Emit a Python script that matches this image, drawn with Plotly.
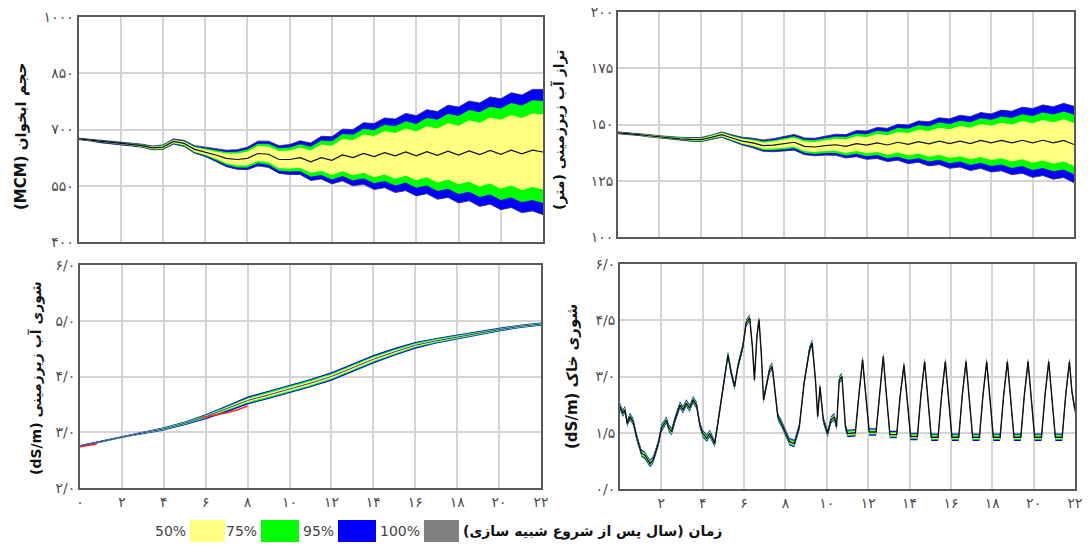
import plotly.graph_objects as go

# ---------------- data ----------------
T_HALF = [0, 0.5, 1, 1.5, 2, 2.5, 3, 3.5, 4, 4.5, 5, 5.5, 6, 6.5, 7, 7.5, 8, 8.5,
          9, 9.5, 10, 10.5, 11, 11.5, 12, 12.5, 13, 13.5, 14, 14.5, 15, 15.5, 16,
          16.5, 17, 17.5, 18, 18.5, 19, 19.5, 20, 20.5, 21, 21.5, 22]

# aquifer volume (MCM): median and band half-widths
TL_MEDIAN = [675, 672, 668, 665, 662, 660, 657, 651, 653, 668, 663, 647, 640, 632,
             623, 620, 623, 636, 634, 620, 620, 625, 614, 625, 618, 632, 625, 636,
             628, 638, 630, 640, 630, 641, 631, 642, 632, 643, 633, 644, 634, 645,
             635, 645, 640]
TL_W50 = [1, 1, 1.5, 1.5, 1.5, 2, 2, 3, 3.5, 4, 4.5, 6, 7, 10, 13, 16, 18, 20, 21,
          23, 24, 27, 30, 35, 39, 43, 47, 51, 55, 58, 61, 63, 65, 68, 72, 75, 78, 82,
          85, 88, 92, 94, 96, 98, 100]
TL_W75 = [1.5, 1.5, 2, 2, 2, 3, 3, 4, 5, 5, 6, 8, 9, 13, 17, 21, 24, 26, 28, 30, 32,
          36, 40, 46, 51, 56, 61, 66, 71, 75, 79, 82, 85, 90, 95, 100, 104, 109, 113,
          117, 122, 126, 129, 133, 136]
TL_W95 = [2, 2, 3, 3, 3, 4, 4, 5, 6, 7, 8, 10, 12, 17, 22, 26, 30, 33, 35, 37, 40,
          45, 50, 57, 63, 69, 75, 82, 88, 93, 98, 103, 107, 112, 117, 123, 128, 133,
          138, 143, 148, 153, 157, 162, 167]

# groundwater level (m)
TR_MEDIAN = [146.3, 146.0, 145.5, 145.0, 144.5, 144.0, 143.6, 143.4, 143.3, 144.3,
             145.5, 144.0, 142.6, 141.8, 140.6, 140.8, 141.5, 142.1, 140.3, 140.0,
             140.6, 141.0, 140.3, 141.5, 140.8, 141.8, 140.9, 142.1, 141.2, 142.4,
             141.4, 142.6, 141.5, 142.6, 141.5, 142.9, 141.8, 142.9, 141.8, 143.0,
             141.8, 143.0, 141.8, 142.9, 141.1]
TR_W50 = [0.2, 0.2, 0.2, 0.3, 0.3, 0.3, 0.4, 0.4, 0.5, 0.6, 0.7, 0.8, 1.0, 1.2, 1.4,
          1.6, 1.8, 2.0, 2.1, 2.2, 2.4, 2.7, 3.0, 3.3, 3.6, 4.0, 4.3, 4.6, 5.0, 5.3,
          5.7, 6.0, 6.4, 6.7, 7.0, 7.3, 7.6, 7.9, 8.2, 8.5, 8.8, 9.0, 9.2, 9.4, 9.6]
TR_W75 = [0.3, 0.3, 0.3, 0.4, 0.4, 0.5, 0.5, 0.6, 0.7, 0.8, 0.9, 1.1, 1.3, 1.6, 1.9,
          2.2, 2.5, 2.7, 2.9, 3.1, 3.3, 3.7, 4.1, 4.5, 4.9, 5.4, 5.9, 6.4, 6.9, 7.4,
          7.8, 8.3, 8.7, 9.1, 9.5, 9.9, 10.3, 10.7, 11.1, 11.5, 12.0, 12.3, 12.6,
          12.9, 13.2]
TR_W95 = [0.4, 0.4, 0.4, 0.5, 0.5, 0.6, 0.7, 0.8, 0.9, 1.0, 1.2, 1.4, 1.7, 2.1, 2.5,
          2.9, 3.3, 3.5, 3.7, 3.9, 4.2, 4.7, 5.2, 5.8, 6.3, 6.9, 7.4, 8.0, 8.6, 9.2,
          9.8, 10.4, 11.0, 11.5, 12.0, 12.4, 12.9, 13.5, 14.1, 14.7, 15.3, 15.7,
          16.1, 16.5, 17.0]

# groundwater salinity (dS/m), yearly
T_YEAR = [0, 1, 2, 3, 4, 5, 6, 7, 8, 9, 10, 11, 12, 13, 14, 15, 16, 17, 18, 19, 20, 21, 22]
BL_MEDIAN = [2.75, 2.83, 2.92, 2.99, 3.06, 3.16, 3.28, 3.42, 3.57, 3.67, 3.77, 3.88,
             4.00, 4.15, 4.31, 4.44, 4.56, 4.64, 4.71, 4.78, 4.84, 4.90, 4.94]
BL_W50 = [0.005, 0.005, 0.005, 0.008, 0.01, 0.012, 0.016, 0.025, 0.03, 0.035, 0.035,
          0.035, 0.035, 0.035, 0.035, 0.03, 0.025, 0.02, 0.016, 0.013, 0.011, 0.01, 0.01]
BL_W75 = [0.012, 0.012, 0.012, 0.015, 0.02, 0.022, 0.03, 0.042, 0.05, 0.055, 0.055,
          0.055, 0.055, 0.055, 0.055, 0.05, 0.042, 0.035, 0.03, 0.025, 0.022, 0.02, 0.02]
BL_W95 = [0.02, 0.02, 0.02, 0.025, 0.03, 0.035, 0.045, 0.06, 0.07, 0.075, 0.075, 0.075,
          0.075, 0.075, 0.075, 0.07, 0.06, 0.05, 0.045, 0.04, 0.035, 0.03, 0.03]
BL_RED_T = [0, 0.4, 0.8, None, 5.8, 6.5, 7.0, 7.5, 8.0]
BL_RED_V = [2.74, 2.76, 2.79, None, 3.26, 3.31, 3.35, 3.40, 3.47]

# soil salinity (dS/m)
BR_T = [0, 0.13, 0.24, 0.35, 0.48, 0.64, 0.8, 1.04, 1.2, 1.32, 1.45, 1.6, 1.85, 2.0,
        2.25, 2.36, 2.5, 2.65, 2.9, 3.05, 3.2, 3.37, 3.53, 3.7, 3.86, 4.0, 4.2, 4.34,
        4.58, 4.74, 4.98, 5.22, 5.38, 5.54, 5.7, 5.94, 6.1, 6.27, 6.4, 6.5, 6.62, 6.72,
        6.83, 6.94, 7.07, 7.23, 7.36, 7.47, 7.63, 7.8, 7.95, 8.2, 8.43, 8.67, 8.9, 9.16,
        9.29, 9.45, 9.56, 9.67, 9.83, 10.04, 10.2, 10.36, 10.47, 10.6, 10.73, 10.9, 11.0,
        11.38, 11.55, 11.73, 11.85, 12.05,
        12.38, 12.55, 12.73, 12.85, 13.05,
        13.38, 13.55, 13.73, 13.85, 14.05,
        14.38, 14.55, 14.73, 14.85, 15.05,
        15.38, 15.55, 15.73, 15.85, 16.05,
        16.38, 16.55, 16.73, 16.85, 17.05,
        17.38, 17.55, 17.73, 17.85, 18.05,
        18.38, 18.55, 18.73, 18.85, 19.05,
        19.38, 19.55, 19.73, 19.85, 20.05,
        20.38, 20.55, 20.73, 20.85, 21.05,
        21.38, 21.55, 21.73, 21.85, 22.0]
BR_MEDIAN = [2.20, 2.02, 2.11, 1.75, 1.93, 1.79, 1.39, 0.95, 0.90, 0.81, 0.68, 0.77,
             1.21, 1.62, 1.84, 1.62, 1.53, 1.84, 2.24, 2.11, 2.29, 2.15, 2.38, 2.24,
             1.71, 1.48, 1.35, 1.48, 1.21, 1.79, 2.64, 3.58, 3.09, 2.73, 3.27, 3.80,
             4.43, 4.56, 3.80, 2.91, 4.07, 4.52, 3.63, 2.38, 2.73, 3.18, 3.27, 2.64,
             1.93, 1.75, 1.57, 1.26, 1.21, 1.66, 2.82, 3.71, 3.89, 2.91, 1.93, 2.73,
             1.84, 1.48, 1.84, 1.93, 1.66, 2.91, 3.0, 1.66, 1.48,
             1.50, 2.50, 3.45, 2.70, 1.52,
             1.52, 2.60, 3.54, 2.70, 1.45,
             1.45, 2.50, 3.31, 2.60, 1.40,
             1.40, 2.50, 3.40, 2.60, 1.38,
             1.38, 2.50, 3.40, 2.60, 1.38,
             1.38, 2.50, 3.40, 2.60, 1.38,
             1.38, 2.50, 3.40, 2.60, 1.38,
             1.38, 2.50, 3.40, 2.60, 1.38,
             1.38, 2.50, 3.40, 2.60, 1.38,
             1.38, 2.50, 3.40, 2.60, 1.38,
             1.38, 2.50, 3.40, 2.60, 2.10]
BR_S50 = 0.04
BR_S75 = 0.07
BR_S95 = 0.10

# ticks and texts
X_TICKS = [0, 2, 4, 6, 8, 10, 12, 14, 16, 18, 20, 22]
X_TICK_TEXT = ["۰", "۲", "۴", "۶", "۸", "۱۰", "۱۲", "۱۴", "۱۶", "۱۸", "۲۰", "۲۲"]
X_TICK_TEXT_BR = ["", "۲", "۴", "۶", "۸", "۱۰", "۱۲", "۱۴", "۱۶", "۱۸", "۲۰", "۲۲"]
TL_YTICKS = [400, 550, 700, 850, 1000]
TL_YTEXT = ["۴۰۰", "۵۵۰", "۷۰۰", "۸۵۰", "۱۰۰۰"]
TR_YTICKS = [100, 125, 150, 175, 200]
TR_YTEXT = ["۱۰۰", "۱۲۵", "۱۵۰", "۱۷۵", "۲۰۰"]
BL_YTICKS = [2, 3, 4, 5, 6]
BL_YTEXT = ["۲/۰", "۳/۰", "۴/۰", "۵/۰", "۶/۰"]
BR_YTICKS = [0, 1.5, 3, 4.5, 6]
BR_YTEXT = ["۰/۰", "۱/۵", "۳/۰", "۴/۵", "۶/۰"]

TITLE_TL = "حجم ابخوان (MCM)"
TITLE_TR = "تراز آب زیرزمینی (متر)"
TITLE_BL = "شوری آب زیرزمینی (dS/m)"
TITLE_BR = "شوری خاک (dS/m)"
TITLE_X = "زمان (سال پس از شروع شبیه سازی)"
LEGEND_LABELS = ["50%", "75%", "95%", "100%"]

# ---------------- styling ----------------
W, H = 1091, 545
C50, C75, C95, C100 = "#ffff80", "#00ff00", "#0000ff", "#808080"
FONT = "DejaVu Sans"


def fx(p):
    return p / W


def fy(p):
    return 1 - p / H


def rtl(s):
    return "\u202b" + s + "\u202c"


fig = go.Figure()


def add_band(t, med, w, color, xa, ya, edge=None):
    lo = [m - d for m, d in zip(med, w)]
    hi = [m + d for m, d in zip(med, w)]
    line = dict(width=0) if edge is None else dict(width=1, color=edge)
    fig.add_trace(go.Scatter(x=t, y=lo, mode="lines", line=line, xaxis=xa, yaxis=ya,
                             hoverinfo="skip", showlegend=False))
    fig.add_trace(go.Scatter(x=t, y=hi, mode="lines", line=line, fill="tonexty",
                             fillcolor=color, xaxis=xa, yaxis=ya,
                             hoverinfo="skip", showlegend=False))


# top-left
add_band(T_HALF, TL_MEDIAN, TL_W95, C95, "x", "y", edge="rgba(50,50,110,0.9)")
add_band(T_HALF, TL_MEDIAN, TL_W75, C75, "x", "y")
add_band(T_HALF, TL_MEDIAN, TL_W50, C50, "x", "y")
fig.add_trace(go.Scatter(x=T_HALF, y=TL_MEDIAN, mode="lines", line=dict(color="#111", width=1.2),
                         xaxis="x", yaxis="y", showlegend=False))
# top-right
add_band(T_HALF, TR_MEDIAN, TR_W95, C95, "x2", "y2", edge="rgba(50,50,110,0.9)")
add_band(T_HALF, TR_MEDIAN, TR_W75, C75, "x2", "y2")
add_band(T_HALF, TR_MEDIAN, TR_W50, C50, "x2", "y2")
fig.add_trace(go.Scatter(x=T_HALF, y=TR_MEDIAN, mode="lines", line=dict(color="#111", width=1.2),
                         xaxis="x2", yaxis="y2", showlegend=False))
# bottom-left
add_band(T_YEAR, BL_MEDIAN, BL_W95, C95, "x3", "y3")
add_band(T_YEAR, BL_MEDIAN, BL_W75, C75, "x3", "y3")
add_band(T_YEAR, BL_MEDIAN, BL_W50, C50, "x3", "y3")
fig.add_trace(go.Scatter(x=T_YEAR, y=BL_MEDIAN, mode="lines", line=dict(color="#3535b5", width=1),
                         xaxis="x3", yaxis="y3", showlegend=False))
fig.add_trace(go.Scatter(x=BL_RED_T, y=BL_RED_V, mode="lines", line=dict(color="#ff2020", width=1.5),
                         xaxis="x3", yaxis="y3", showlegend=False, connectgaps=False))
# bottom-right
for s, c in [(BR_S95, C95), (BR_S75, C75), (BR_S50, C50)]:
    add_band(BR_T, BR_MEDIAN, [s] * len(BR_T), c, "x4", "y4")
fig.add_trace(go.Scatter(x=BR_T, y=BR_MEDIAN, mode="lines", line=dict(color="#111", width=1.4),
                         xaxis="x4", yaxis="y4", showlegend=False))

axis_common = dict(showgrid=True, gridcolor="#d4d4d4", gridwidth=1.6, showline=True,
                   linecolor="#5a5a5a", linewidth=2, mirror=True, zeroline=False, ticks="",
                   automargin=False,
                   tickfont=dict(family=FONT, size=14, color="#4a4a4a"))

boxes = {  # pixel boxes: x0, x1, y0(top), y1(bottom)
    "1": (78.5, 543, 17, 242),
    "2": (618, 1074, 12, 237),
    "3": (80, 541, 265, 488),
    "4": (620, 1075, 264, 489),
}
yinfo = {
    "1": ([400, 1000], TL_YTICKS, TL_YTEXT),
    "2": ([100, 200], TR_YTICKS, TR_YTEXT),
    "3": ([2, 6], BL_YTICKS, BL_YTEXT),
    "4": ([0, 6], BR_YTICKS, BR_YTEXT),
}
layout_axes = {}
for k, (x0, x1, y0, y1) in boxes.items():
    xname = "xaxis" if k == "1" else "xaxis" + k
    yname = "yaxis" if k == "1" else "yaxis" + k
    anchor_x = "x" if k == "1" else "x" + k
    anchor_y = "y" if k == "1" else "y" + k
    xt = X_TICK_TEXT_BR if k == "4" else X_TICK_TEXT
    layout_axes[xname] = dict(axis_common, domain=[fx(x0), fx(x1)], anchor=anchor_y,
                              range=[0, 22], tickvals=X_TICKS, ticktext=xt,
                              showticklabels=k in ("3", "4"))
    rng, tv, tt = yinfo[k]
    layout_axes[yname] = dict(axis_common, domain=[fy(y1), fy(y0)], anchor=anchor_x,
                              range=rng, tickvals=tv, ticktext=tt)

annotations = []
for text, px, py, fs in [(TITLE_TL, 21, 137, 15), (TITLE_TR, 559, 130, 14),
                         (TITLE_BL, 36, 378, 14), (TITLE_BR, 572, 377, 15)]:
    annotations.append(dict(text="<b>" + rtl(text) + "</b>", x=fx(px), y=fy(py),
                            xref="paper", yref="paper", showarrow=False, textangle=-90,
                            xanchor="center", yanchor="middle",
                            font=dict(family=FONT, size=fs, color="#111")))
annotations.append(dict(text="<b>" + rtl(TITLE_X) + "</b>", x=fx(724), y=fy(531),
                        xref="paper", yref="paper", showarrow=False,
                        xanchor="right", yanchor="middle",
                        font=dict(family=FONT, size=14, color="#111")))

shapes = []
legend_boxes = [(190, 225), (261, 299), (338, 376), (424, 459)]
for lab, col, (bx0, bx1) in zip(LEGEND_LABELS, [C50, C75, C95, C100], legend_boxes):
    shapes.append(dict(type="rect", xref="paper", yref="paper", x0=fx(bx0), x1=fx(bx1),
                       y0=fy(542), y1=fy(520), fillcolor=col, line=dict(width=0)))
    annotations.append(dict(text=lab, x=fx(bx0 - 2), y=fy(531), xref="paper", yref="paper",
                            showarrow=False, xanchor="right", yanchor="middle",
                            font=dict(family=FONT, size=14, color="#444")))

fig.update_layout(width=W, height=H, margin=dict(l=0, r=0, t=0, b=0),
                  paper_bgcolor="white", plot_bgcolor="white", showlegend=False,
                  annotations=annotations, shapes=shapes, **layout_axes)

fig.write_html("out.html", config={"displayModeBar": False},
               post_script="document.body.style.margin='0px';document.body.style.overflow='hidden';")
